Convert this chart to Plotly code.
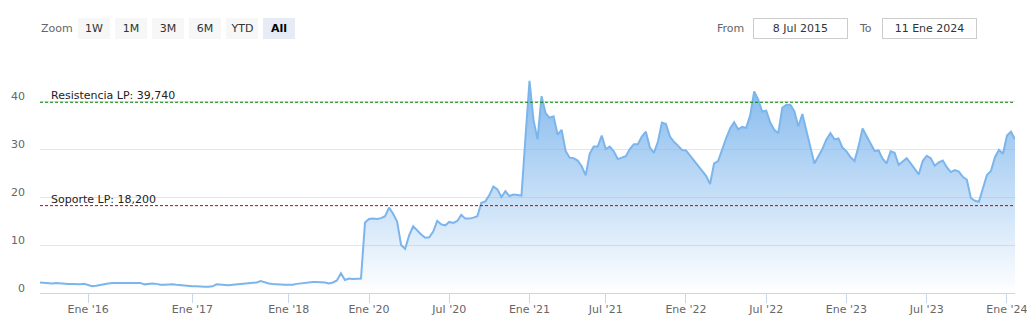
import pandas as pd
import plotly.graph_objects as go

# ---------------- data ----------------
# ordinal (Highcharts-stock style) axis: each quote takes the same width.
# (first date, last date, number of quotes in the block)
segments = [
    ("2015-07-08", "2015-12-23", 12),
    ("2016-01-06", "2016-12-21", 26),
    ("2017-01-04", "2017-12-20", 24),
    ("2018-01-10", "2019-12-18", 20),
    ("2020-01-03", "2020-06-26", 20),
    ("2020-07-03", "2020-12-24", 20),
    ("2021-01-04", "2021-06-28", 19),
    ("2021-07-02", "2021-12-27", 20),
    ("2022-01-03", "2022-06-27", 20),
    ("2022-07-01", "2022-12-26", 20),
    ("2023-01-02", "2023-06-26", 20),
    ("2023-07-03", "2023-12-28", 20),
    ("2024-01-03", "2024-01-11", 3),
]

prices = [
    # 2015-2019
    2.2, 2.1, 2.1, 2.0, 2.1, 2.0, 2.0, 1.9, 1.9, 1.8, 1.8, 1.9,
    1.7, 1.4, 1.5, 1.7, 1.8, 2.0, 2.1, 2.1, 2.1, 2.1, 2.1, 2.1, 2.0, 2.1,
    1.8, 1.9, 2.0, 1.9, 1.7, 1.7, 1.8, 1.8, 1.7, 1.6, 1.5, 1.5,
    1.4, 1.4, 1.3, 1.3, 1.3, 1.4, 1.8, 1.7, 1.7, 1.6, 1.7, 1.8, 1.9, 2.0,
    2.0, 2.1, 2.2, 2.5, 2.2, 2.0, 1.9, 1.8, 1.8, 1.7,
    1.7, 1.7, 1.9, 2.0, 2.2, 2.3, 2.3, 2.3, 2.3, 2.2, 2.0, 2.2, 2.6, 4.1,
    2.7, 3.0, 2.9, 2.9, 3.0, 14.7,
    # 2020
    15.4, 15.5, 15.4, 15.6, 16.0, 17.8, 16.5, 14.9, 10.0, 9.2,
    12.0, 13.9, 13.0, 12.2, 11.5, 11.6, 12.8, 15.0, 14.3, 14.1,
    14.8, 14.6, 15.0, 16.3, 15.5, 15.5, 15.7, 16.0, 18.8, 19.1,
    20.4, 22.2, 21.6, 20.0, 21.2, 20.2, 20.5, 20.4, 20.3, 32.5,
    # 2021
    44.2, 36.0, 32.0, 41.0, 37.5, 36.5, 36.8, 33.0, 34.0, 29.6,
    28.2, 28.1, 27.6, 26.4, 24.5, 29.0, 30.5, 30.5, 32.8, 30.0,
    30.5, 29.5, 27.9, 28.2, 28.5, 30.0, 31.0, 31.0, 32.6, 33.6,
    30.3, 29.2, 31.5, 35.5, 35.2, 32.6, 31.5, 30.7, 29.8, 29.7,
    # 2022
    28.6, 27.7, 26.5, 25.3, 24.4, 22.7, 27.0, 27.5, 30.0, 32.2,
    34.3, 35.6, 34.1, 34.6, 34.4, 37.0, 42.0, 40.3, 37.8, 38.0,
    35.5, 34.0, 33.3, 38.6, 39.2, 39.2, 37.9, 34.7, 37.3, 34.0,
    30.9, 27.0, 28.5, 30.0, 32.0, 33.3, 32.0, 32.2, 30.3, 29.5,
    # 2023
    28.3, 27.5, 30.5, 34.3, 32.7, 31.3, 29.6, 29.7, 28.0, 27.0,
    29.5, 29.2, 26.7, 27.4, 28.1, 27.0, 25.8, 24.7, 27.5, 28.6,
    28.1, 26.5, 27.2, 27.6, 26.2, 25.2, 25.6, 25.3, 24.2, 23.6,
    19.8, 19.2, 19.0, 21.7, 24.6, 25.4, 28.3, 29.8, 29.0,
    # 2024
    32.8, 33.6, 32.0,
]

resistance = 39.74
support = 18.2
resistance_label = "Resistencia LP: 39,740"
support_label = "Soporte LP: 18,200"

tick_dates = ["2016-01-01", "2017-01-01", "2018-01-01", "2020-01-01", "2020-07-01",
              "2021-01-01", "2021-07-01", "2022-01-01", "2022-07-01", "2023-01-01",
              "2023-07-01", "2024-01-01"]
tick_labels = ["Ene '16", "Ene '17", "Ene '18", "Ene '20", "Jul '20", "Ene '21",
               "Jul '21", "Ene '22", "Jul '22", "Ene '23", "Jul '23", "Ene '24"]
y_ticks = [0, 10, 20, 30, 40]

zoom_buttons = ["1W", "1M", "3M", "6M", "YTD", "All"]
active_button = "All"
from_date = "8 Jul 2015"
to_date = "11 Ene 2024"

# ---------------- build ----------------
dates = []
for start, end, n in segments:
    dates += [d.strftime("%Y-%m-%d") for d in pd.date_range(start, end, periods=n)]
assert len(dates) == len(prices), (len(dates), len(prices))

tickvals = [next(d for d in dates if d >= t) for t in tick_dates]

FONT = "DejaVu Sans"
W, H = 1027, 324
ML, MR, MT, MB = 40, 12, 72, 31
PW, PH = W - ML - MR, H - MT - MB
PX_PER_UNIT = 4.8


def pxx(x):
    return (x - ML) / PW


def pxy(y):
    return (H - MB - y) / PH


fig = go.Figure()
fig.add_trace(go.Scatter(
    x=dates, y=prices, mode="lines",
    line=dict(color="#7cb5ec", width=2),
    fill="tozeroy",
    fillgradient=dict(type="vertical",
                      colorscale=[[0, "rgba(124,181,236,0.0)"], [1, "rgba(124,181,236,0.95)"]],
                      start=0, stop=max(prices)),
    hoverinfo="skip", showlegend=False,
))

# long-term resistance / support levels
for val, col in [(resistance, "#008000"), (support, "#cc0000")]:
    fig.add_trace(go.Scatter(
        x=[dates[0], dates[-1]], y=[val, val], mode="lines",
        line=dict(color=col, width=1, dash="3px,2px"),
        hoverinfo="skip", showlegend=False))

annotations = []
for val, txt in [(resistance, resistance_label), (support, support_label)]:
    annotations.append(dict(xref="paper", yref="y", x=pxx(49), y=val, text=txt,
                            showarrow=False, xanchor="left", yanchor="bottom", yshift=-2,
                            font=dict(family=FONT, size=11, color="#222")))

# range-selector look-alike
annotations.append(dict(xref="paper", yref="paper", x=pxx(39), y=pxy(28.5), text="Zoom",
                        showarrow=False, xanchor="left", yanchor="middle",
                        font=dict(family=FONT, size=11, color="#666")))
bx = 78
for b in zoom_buttons:
    active = b == active_button
    annotations.append(dict(
        xref="paper", yref="paper", x=pxx(bx), y=pxy(17.5), xanchor="left", yanchor="top",
        text=f"<b>{b}</b>" if active else b, showarrow=False, width=32, height=21,
        bgcolor="#e6ebf5" if active else "#f7f7f7", borderpad=0, borderwidth=0,
        font=dict(family=FONT, size=11, color="#000" if active else "#333")))
    bx += 37

annotations.append(dict(xref="paper", yref="paper", x=pxx(746), y=pxy(28.5), text="From",
                        showarrow=False, xanchor="right", yanchor="middle",
                        font=dict(family=FONT, size=11, color="#666")))
annotations.append(dict(xref="paper", yref="paper", x=pxx(874), y=pxy(28.5), text="To",
                        showarrow=False, xanchor="right", yanchor="middle",
                        font=dict(family=FONT, size=11, color="#666")))
for x0, txt in [(753, from_date), (882, to_date)]:
    annotations.append(dict(
        xref="paper", yref="paper", x=pxx(x0), y=pxy(17.5), xanchor="left", yanchor="top",
        text=txt, showarrow=False, width=93, height=19, bgcolor="#fff",
        bordercolor="#cccccc", borderwidth=1, borderpad=0,
        font=dict(family=FONT, size=11, color="#333")))

fig.update_layout(
    width=W, height=H, margin=dict(l=ML, r=MR, t=MT, b=MB, autoexpand=False),
    paper_bgcolor="#fff", plot_bgcolor="#fff",
    font=dict(family=FONT, size=11, color="#666"),
    annotations=annotations, showlegend=False,
    xaxis=dict(type="category", range=[0, len(dates) - 1], tickvals=tickvals, ticktext=tick_labels,
               showgrid=False, showline=True, linecolor="#ccd6eb", linewidth=1,
               ticks="outside", ticklen=9, tickcolor="#ccd6eb", tickwidth=1,
               ticklabelstandoff=-3, automargin=False,
               tickfont=dict(family=FONT, size=11, color="#666"), zeroline=False),
    yaxis=dict(range=[0, PH / PX_PER_UNIT], tickvals=y_ticks, showgrid=True,
               gridcolor="#e6e6e6", gridwidth=1, zeroline=False, showline=False,
               ticklabelposition="outside top", ticks="", automargin=False,
               ticklabelstandoff=14, ticklabelshift=3,
               tickfont=dict(family=FONT, size=11, color="#666")),
)

fig.write_html("out.html", config={"displayModeBar": False})
